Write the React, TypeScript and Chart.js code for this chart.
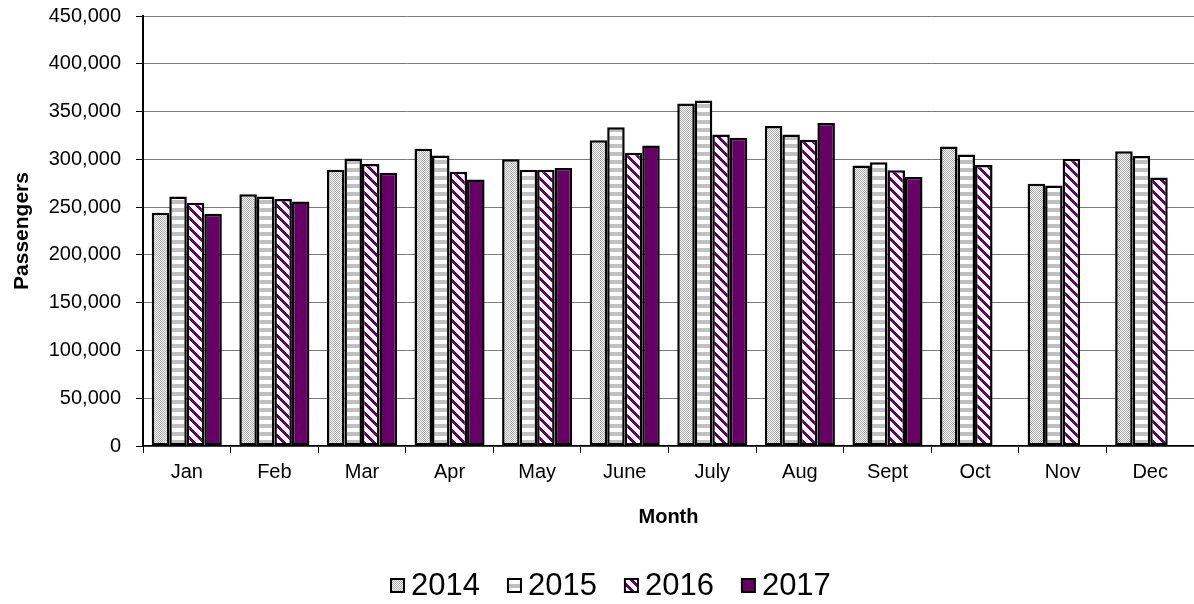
import React, { useEffect, useRef } from "react";
import { Chart, registerables } from "chart.js";

Chart.register(...registerables);

// Monthly passenger counts by year
const months = ["Jan", "Feb", "Mar", "Apr", "May", "June", "July", "Aug", "Sept", "Oct", "Nov", "Dec"];
const years = ["2014", "2015", "2016", "2017"];
const passengers2014 = [244000, 263500, 289000, 311000, 300000, 320000, 358500, 335000, 293500, 313500, 274500, 308500];
const passengers2015 = [261000, 261000, 301000, 304000, 289000, 333500, 361500, 326000, 297000, 305000, 272500, 303500];
const passengers2016 = [254500, 258500, 295000, 287000, 289000, 307000, 326000, 320500, 288500, 294000, 300500, 281000];
const passengers2017 = [243000, 256000, 286000, 279000, 291000, 314500, 322500, 338000, 281500, null, null, null];
const yMax = 450000;
const yStep = 50000;

const FONT = "'Liberation Sans', Arial, Helvetica, sans-serif";
const PURPLE = "#660066";

// Build a repeating fill from a small per-pixel painter
function makePattern(size: number, paint: (x: number, y: number) => string | null): CanvasPattern | string {
  const c = document.createElement("canvas");
  c.width = size;
  c.height = size;
  const g = c.getContext("2d");
  if (!g) return "#ccc";
  g.fillStyle = "#ffffff";
  g.fillRect(0, 0, size, size);
  for (let y = 0; y < size; y++) {
    for (let x = 0; x < size; x++) {
      const col = paint(x, y);
      if (col) {
        g.fillStyle = col;
        g.fillRect(x, y, 1, 1);
      }
    }
  }
  return g.createPattern(c, "repeat") || "#ccc";
}

// Legend drawn under the axis title: small outlined swatch + large label
const yearLegend = {
  id: "yearLegend",
  afterDraw(chart: any, _args: any, opts: any) {
    const ctx: CanvasRenderingContext2D = chart.ctx;
    ctx.save();
    ctx.font = `${opts.fontSize}px ${FONT}`;
    ctx.textBaseline = "alphabetic";
    ctx.textAlign = "left";
    let x = opts.left;
    chart.data.datasets.forEach((ds: any) => {
      const text = String(ds.label);
      const w = ctx.measureText(text).width;
      const b = opts.box;
      const top = opts.baseline - opts.boxDrop;
      ctx.fillStyle = "#000";
      ctx.fillRect(x, top, b, b);
      ctx.fillStyle = ds.backgroundColor;
      ctx.fillRect(x + 2, top + 2, b - 4, b - 4);
      ctx.fillStyle = "#000";
      ctx.fillText(text, x + b + opts.gap, opts.baseline);
      x += b + opts.gap + w + opts.spacing;
    });
    ctx.restore();
  },
};

export default function App() {
  const ref = useRef<HTMLCanvasElement>(null);

  useEffect(() => {
    const canvas = ref.current;
    if (!canvas) return;

    const dotted = makePattern(2, (x, y) => ((x + y) % 2 === 0 ? "#a8a8a8" : null));
    const banded = makePattern(8, (_x, y) => (y % 8 < 4 ? "#c0c0c0" : null));
    const slanted = makePattern(10, (x, y) => ((((x - y) % 10) + 10) % 10 < 4 ? PURPLE : null));
    const fills = [dotted, banded, slanted, PURPLE];
    const series = [passengers2014, passengers2015, passengers2016, passengers2017];

    const chart = new Chart(canvas, {
      type: "bar",
      data: {
        labels: months,
        datasets: years.map((yr, i) => ({
          label: yr,
          data: series[i],
          backgroundColor: fills[i] as any,
          borderColor: "#000000",
          borderWidth: 2.5,
          borderSkipped: false,
          categoryPercentage: 0.8,
          barPercentage: 1,
        })),
      },
      options: {
        responsive: false,
        animation: false,
        layout: { padding: { top: 16, right: -3, bottom: 61, left: 0 } },
        font: { family: FONT },
        plugins: {
          legend: { display: false },
          tooltip: { enabled: false },
          yearLegend: { left: 390, baseline: 595, boxDrop: 17, box: 15, gap: 6, spacing: 27, fontSize: 31 },
        } as any,
        scales: {
          x: {
            grid: { display: true, drawOnChartArea: false, offset: true, tickLength: 7, tickColor: "#000", tickWidth: 1 },
            border: { color: "#000", width: 1.5 },
            ticks: { color: "#000", font: { family: FONT, size: 20 }, padding: 7, maxRotation: 0, autoSkip: false },
            title: {
              display: true,
              text: "Month",
              color: "#000",
              font: { family: FONT, size: 20, weight: "bold" },
              padding: { top: 0, bottom: 14 },
            },
            afterFit: (s: any) => {
              s.height = 97;
            },
          },
          y: {
            min: 0,
            max: yMax,
            ticks: {
              stepSize: yStep,
              color: "#000",
              font: { family: FONT, size: 20 },
              padding: 15,
              callback: (v: any) => Number(v).toLocaleString("en-US"),
            },
            grid: { color: "#7a7a7a", lineWidth: 1, tickLength: 7, tickColor: "#000" },
            border: { color: "#000", width: 2 },
            title: {
              display: true,
              text: "Passengers",
              color: "#000",
              font: { family: FONT, size: 21, weight: "bold" },
              padding: { top: 10, bottom: 0 },
            },
            afterFit: (s: any) => {
              s.width = 143;
              s.paddingTop = 10;
              s.paddingBottom = 10;
            },
          },
        },
      } as any,
      plugins: [yearLegend],
    });

    return () => chart.destroy();
  }, []);

  return (
    <div
      style={{
        position: "fixed",
        left: 0,
        top: 0,
        width: 1194,
        height: 604,
        overflow: "hidden",
        background: "#fff",
      }}
    >
      <canvas ref={ref} width={1194} height={604} style={{ display: "block" }} />
    </div>
  );
}
